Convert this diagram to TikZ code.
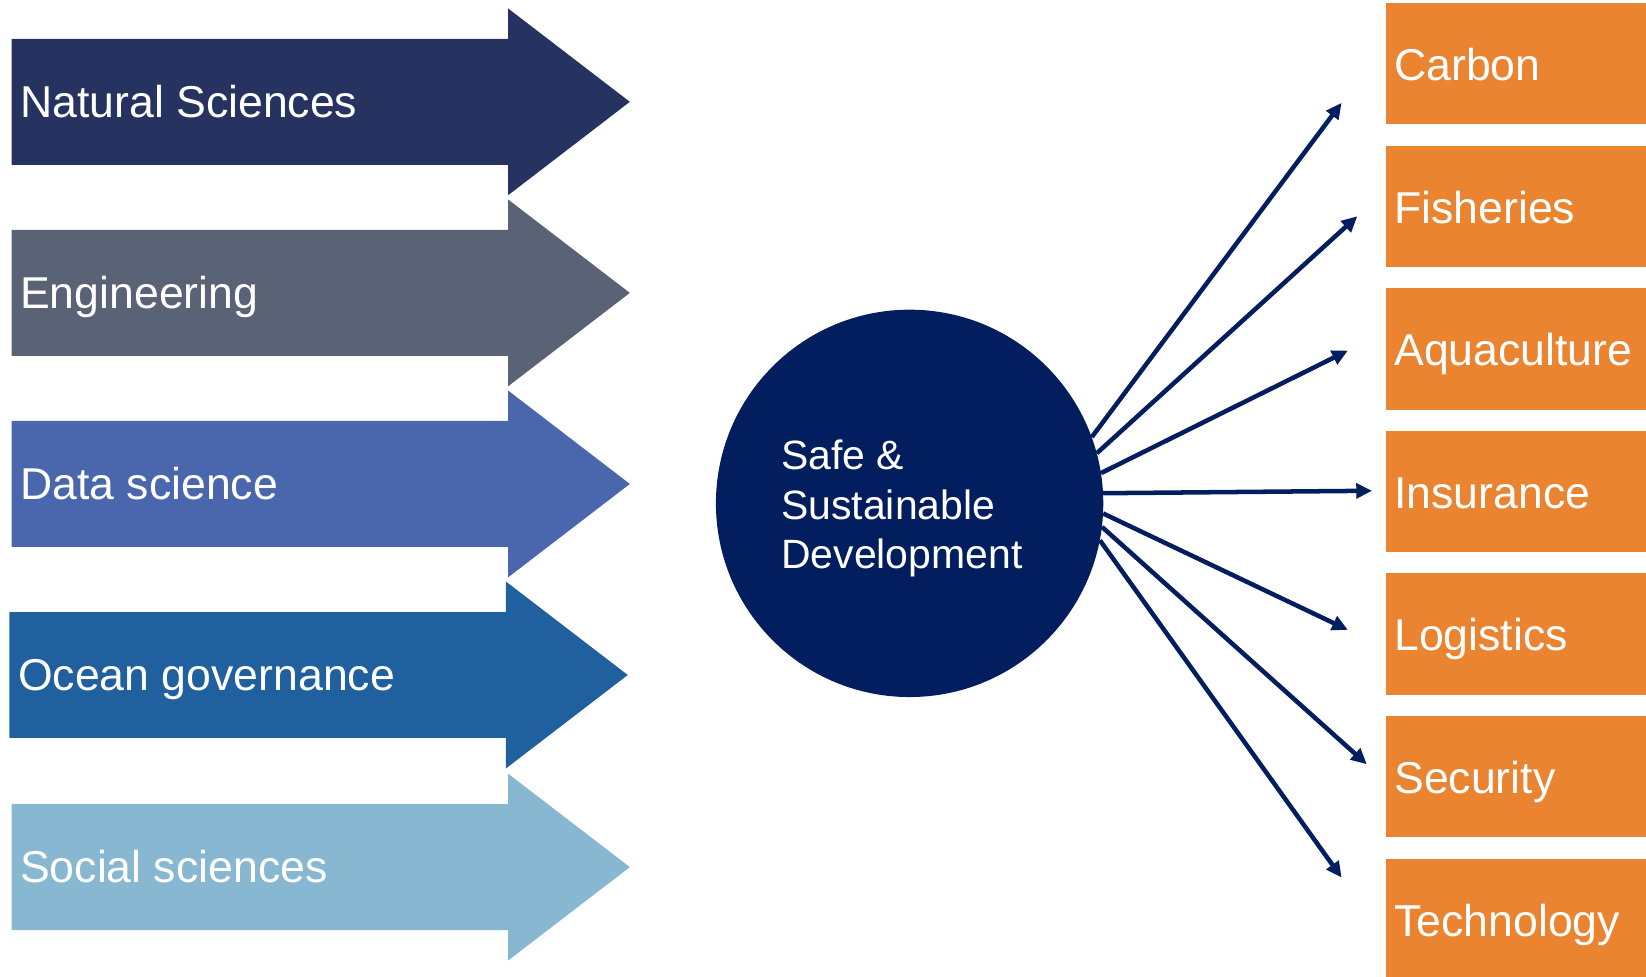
\documentclass[tikz,border=0pt]{standalone}
\usepackage{fontspec}
\setmainfont{Liberation Sans}
\usetikzlibrary{arrows.meta}
\definecolor{cNat}{RGB}{38,51,97}
\definecolor{cEng}{RGB}{90,98,117}
\definecolor{cData}{RGB}{74,102,172}
\definecolor{cOcean}{RGB}{33,96,159}
\definecolor{cSoc}{RGB}{135,183,209}
\definecolor{cNavy}{RGB}{3,30,95}
\definecolor{cOrange}{RGB}{234,132,48}
\begin{document}
\begin{tikzpicture}[x=1pt,y=-1pt,
  lefttext/.style={anchor=base west, inner sep=0pt, text=white,
    font=\fontsize{42.5}{50}\selectfont},
  sectorbox/.style={anchor=north west, fill=cOrange, minimum width=270pt,
    minimum height=115.5pt, inner xsep=8pt, inner ysep=0pt, text width=254pt,
    align=left, text height=32pt, text depth=0pt, text=white,
    font=\fontsize{42.5}{50}\selectfont},
  hub/.style={circle, fill=cNavy, minimum size=369pt, inner sep=0pt},
  hubtext/.style={anchor=base west, inner sep=0pt, text=white,
    font=\fontsize{39}{48}\selectfont},
  conn/.style={draw=cNavy, line width=4.3pt,
    -{Triangle[length=15pt,width=14pt]}}]
\useasboundingbox (0,0) rectangle (1568,930);
\clip (0,0) rectangle (1568,930);

% discipline arrows
\foreach \cy/\col/\dx/\nm/\txt in {
  97/cNat/0/ns/Natural Sciences,
  279/cEng/0/eng/Engineering,
  461/cData/0/ds/Data science,
  643/cOcean/-2/og/Ocean governance,
  826/cSoc/0/ss/Social sciences}{
  \fill[\col] (11+\dx,\cy-60) -- (484+\dx,\cy-60) -- (484+\dx,\cy-89)
    -- (600+\dx,\cy) -- (484+\dx,\cy+89) -- (484+\dx,\cy+60)
    -- (11+\dx,\cy+60) -- cycle;
  \node[lefttext] (\nm) at (19+\dx,\cy+15) {\txt};
}

% hub
\node[hub] (c) at (866.5,479.5) {};
\node[hubtext] (sd1) at (744,447) {Safe \&};
\node[hubtext] (sd2) at (744,495) {Sustainable};
\node[hubtext] (sd3) at (744,542) {Development};

% sector boxes
\node[sectorbox] (carbon) at (1320,2.5) {Carbon};
\node[sectorbox] (fish) at (1320,139) {Fisheries};
\node[sectorbox] (aqua) at (1320,274.5) {Aquaculture};
\node[sectorbox] (ins) at (1320,410.5) {Insurance};
\node[sectorbox] (log) at (1320,546) {Logistics};
\node[sectorbox] (sec) at (1320,682) {Security};
\node[sectorbox] (tech) at (1320,818.5) {Technology};

% arrow tips
\coordinate (t1) at (1278,98);
\coordinate (t2) at (1293,206);
\coordinate (t3) at (1284,334);
\coordinate (t4) at (1307,467.5);
\coordinate (t5) at (1284,600);
\coordinate (t6) at (1302,728);
\coordinate (t7) at (1278,836);

\draw[conn] (c.20) -- (t1);
\draw[conn] (c.15.5) -- (t2);
\draw[conn] (c.9.4) -- (t3);
\draw[conn] (c.3.7) -- (t4);
\draw[conn] (c.-3) -- (t5);
\draw[conn] (c.-7) -- (t6);
\draw[conn] (c.-11.7) -- (t7);
\end{tikzpicture}
\end{document}
